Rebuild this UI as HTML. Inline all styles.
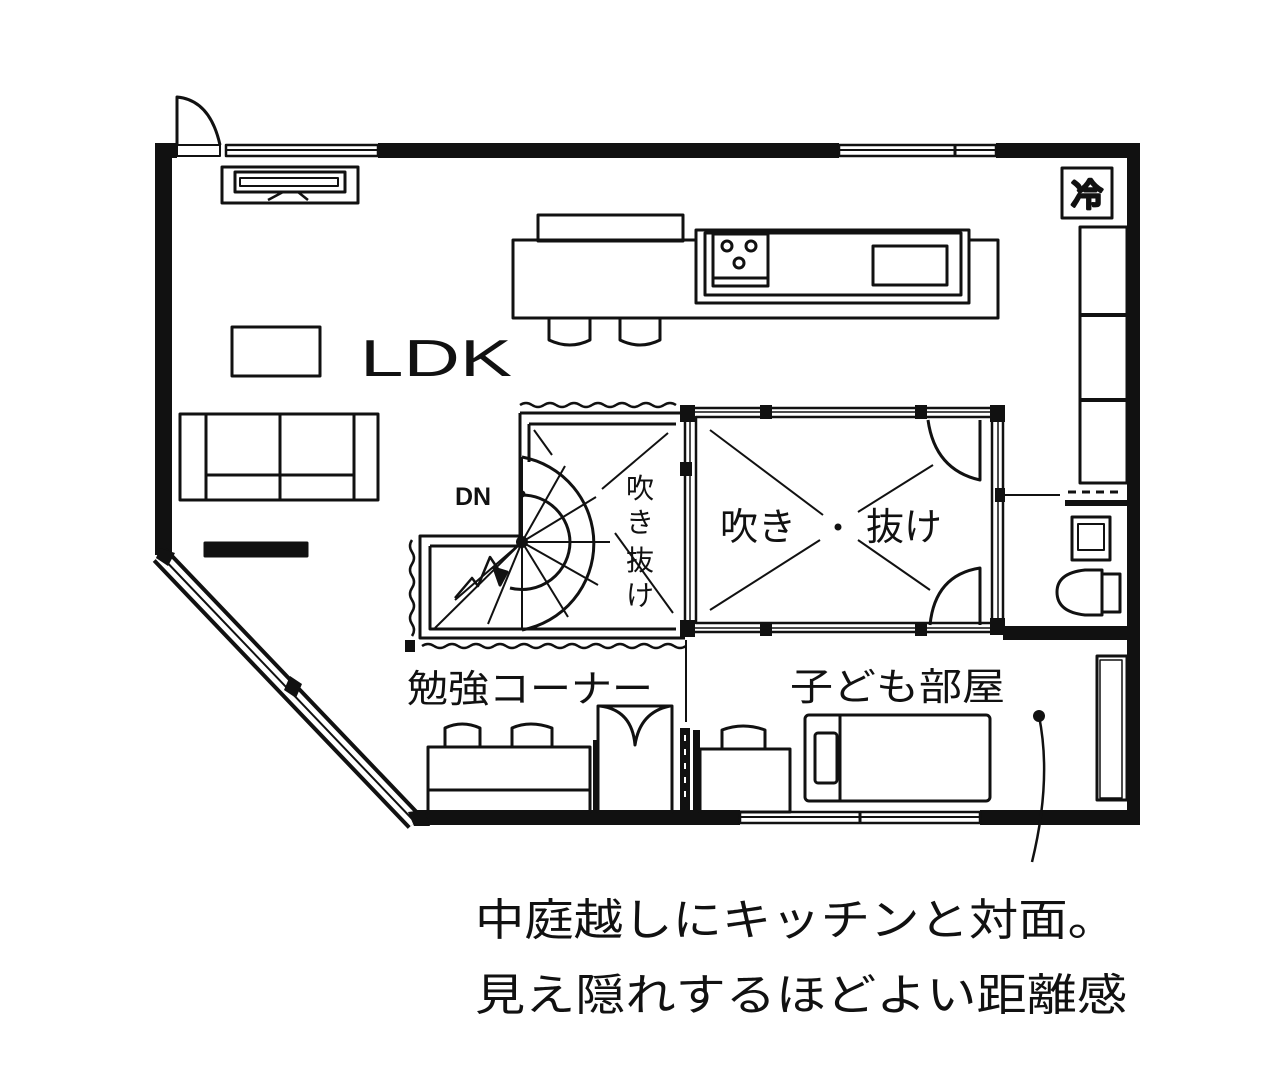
<!DOCTYPE html>
<html><head><meta charset="utf-8"><style>
html,body{margin:0;padding:0;background:#fff;}
svg{display:block}
text{font-family:"Liberation Sans","Noto Sans CJK JP",sans-serif;fill:#111}
</style></head><body>
<svg width="1280" height="1066" viewBox="0 0 1280 1066" xmlns="http://www.w3.org/2000/svg">
<g stroke="#111" fill="none" stroke-width="3" stroke-linejoin="round">
<g fill="#111" stroke="none">
<rect x="155" y="143" width="22" height="15"/>
<rect x="378" y="143" width="461" height="15"/>
<rect x="996" y="143" width="144" height="15"/>
<rect x="155" y="143" width="17" height="412"/>
<rect x="1127" y="143" width="13" height="682"/>
<rect x="415" y="810" width="325" height="15"/>
<rect x="980" y="810" width="160" height="15"/>
</g>
<rect x="177" y="145" width="43" height="11" stroke-width="2"/>
<path d="M177 145 L177 97 Q210 100 220 145"/>
<rect x="226" y="145" width="152" height="11" stroke-width="2.5"/>
<line x1="226" y1="150" x2="378" y2="150" stroke-width="2"/>
<rect x="839" y="145" width="157" height="11" stroke-width="2.5"/>
<line x1="839" y1="150" x2="996" y2="150" stroke-width="2"/>
<line x1="955" y1="145" x2="955" y2="156"/>
<rect x="740" y="812" width="240" height="11" stroke-width="2.5"/>
<line x1="740" y1="817" x2="980" y2="817" stroke-width="2"/>
<line x1="860" y1="812" x2="860" y2="823"/>
<line x1="160" y1="555" x2="415" y2="822" stroke-width="20"/>
<line x1="160" y1="555" x2="415" y2="822" stroke="#fff" stroke-width="12"/>
<line x1="160" y1="555" x2="415" y2="822" stroke-width="2"/>
<polygon points="160,548 175,553 168,566 156,558" fill="#111" stroke="none"/>
<polygon points="290,676 302,684 296,698 284,690" fill="#111" stroke="none"/>
<polygon points="408,812 424,810 430,826 414,826" fill="#111" stroke="none"/>
<rect x="222" y="167" width="136" height="36"/>
<rect x="235" y="172" width="110" height="20"/>
<rect x="240" y="178" width="98" height="8" stroke-width="2"/>
<path d="M268 200 L283 192 L298 192 L308 200" stroke-width="2.5"/>
<rect x="1062" y="168" width="50" height="50"/>
<text x="1087" y="206" font-size="32" text-anchor="middle">冷</text>
<rect x="538" y="215" width="145" height="26"/>
<rect x="513" y="240" width="485" height="78"/>
<rect x="696" y="230" width="273" height="73" fill="#fff"/>
<rect x="705" y="233" width="256" height="62"/>
<rect x="713" y="234" width="55" height="52"/>
<circle cx="727" cy="246" r="5"/><circle cx="751" cy="246" r="5"/><circle cx="739" cy="263" r="5"/>
<line x1="713" y1="278" x2="768" y2="278"/>
<rect x="873" y="246" width="74" height="39"/>
<path d="M549 318 L549 340 Q570 350 590 340 L590 318"/>
<path d="M620 318 L620 340 Q640 350 660 340 L660 318"/>
<rect x="1080" y="227" width="47" height="256"/>
<line x1="1080" y1="315" x2="1127" y2="315" stroke-width="4"/>
<line x1="1080" y1="400" x2="1127" y2="400" stroke-width="4"/>
<rect x="232" y="327" width="88" height="49"/>
<rect x="180" y="414" width="198" height="86"/>
<line x1="206" y1="414" x2="206" y2="500"/>
<line x1="280" y1="414" x2="280" y2="500"/>
<line x1="354" y1="414" x2="354" y2="500"/>
<line x1="206" y1="475" x2="354" y2="475"/>
<rect x="205" y="543" width="102" height="13" fill="#111"/>
<path d="M520 405 q6 -4 12 0 t12 0 t12 0 t12 0 t12 0 t12 0 t12 0 t12 0 t12 0 t12 0 t12 0 t12 0 t12 0" stroke-width="2.5"/>
<path d="M520 413 L520 536 L420 536 L420 638 L685 638"/>
<line x1="520" y1="413" x2="685" y2="413"/>
<path d="M529 424 L676 424 M529 424 L529 462 M430 546 L520 546 M430 546 L430 629 L676 629"/>
<path d="M412 540 q-4 6 0 12 t0 12 t0 12 t0 12 t0 12 t0 12 t0 12 t0 12" stroke-width="2.5"/>
<path d="M422 646 q6 -4 12 0 t12 0 t12 0 t12 0 t12 0 t12 0 t12 0 t12 0 t12 0 t12 0 t12 0 t12 0 t12 0 t12 0 t12 0 t12 0 t12 0 t12 0 t12 0 t12 0 t12 0 t12 0" stroke-width="2.5"/>
<rect x="405" y="640" width="10" height="12" fill="#111" stroke="none"/>
<path d="M522 457 A88 88 0 0 1 522 630" />
<path d="M522 495 A48 48 0 0 1 570 542 A48 48 0 0 1 510 588"/>
<g stroke-width="2">
<line x1="522" y1="542" x2="522" y2="457"/>
<line x1="522" y1="542" x2="565" y2="466"/>
<line x1="522" y1="542" x2="596" y2="497"/>
<line x1="522" y1="542" x2="610" y2="542"/>
<line x1="522" y1="542" x2="598" y2="585"/>
<line x1="522" y1="542" x2="568" y2="617"/>
<line x1="522" y1="542" x2="522" y2="630"/>
<line x1="522" y1="542" x2="488" y2="624"/>
<line x1="522" y1="542" x2="455" y2="600"/>
<line x1="522" y1="542" x2="435" y2="628"/>
<line x1="534" y1="430" x2="552" y2="455"/>
<line x1="602" y1="489" x2="668" y2="433"/>
<line x1="615" y1="533" x2="673" y2="613"/>
</g>
<path d="M455 598 L472 578 L478 586 L490 557 L500 572" stroke-width="2.5"/>
<polygon points="494,568 507,572 500,585" fill="#111"/>
<circle cx="522" cy="542" r="6" fill="#111" stroke="none"/>
<circle cx="522" cy="494" r="3.5" fill="#111" stroke="none"/>
<rect x="685" y="408" width="318" height="224" stroke-width="2.5"/>
<rect x="696" y="417" width="296" height="206" stroke-width="2.5"/>
<line x1="690" y1="412" x2="998" y2="412" stroke-width="1.5"/>
<line x1="690" y1="628" x2="998" y2="628" stroke-width="1.5"/>
<line x1="690" y1="412" x2="690" y2="628" stroke-width="1.5"/>
<line x1="998" y1="412" x2="998" y2="628" stroke-width="1.5"/>
<g fill="#111" stroke="none">
<rect x="680" y="405" width="15" height="17"/><rect x="760" y="405" width="12" height="14"/><rect x="915" y="405" width="12" height="14"/><rect x="990" y="405" width="15" height="17"/>
<rect x="680" y="462" width="12" height="14"/><rect x="995" y="488" width="10" height="14"/>
<rect x="680" y="620" width="15" height="17"/><rect x="760" y="622" width="12" height="14"/><rect x="915" y="622" width="12" height="14"/><rect x="990" y="618" width="15" height="17"/>
</g>
<g stroke-width="2">
<line x1="710" y1="430" x2="823" y2="515"/>
<line x1="710" y1="610" x2="820" y2="540"/>
<line x1="858" y1="512" x2="933" y2="465"/>
<line x1="858" y1="540" x2="930" y2="590"/>
</g>
<path d="M928 420 Q935 470 980 480 L980 420"/>
<path d="M930 625 Q935 575 980 568 L980 625"/>
<circle cx="838" cy="527" r="3.5" fill="#111" stroke="none"/>
<line x1="1005" y1="495" x2="1060" y2="495" stroke-width="2"/>
<path d="M1068 492 h8 m6 0 h8 m6 0 h8 m6 0 h8" stroke-width="3"/>
<rect x="1065" y="500" width="62" height="6" fill="#111" stroke="none"/>
<rect x="1072" y="517" width="38" height="43"/>
<rect x="1078" y="524" width="26" height="26" stroke-width="2"/>
<path d="M1102 570 L1085 570 Q1057 573 1057 592 Q1057 612 1085 615 L1102 615 Z"/>
<rect x="1102" y="574" width="18" height="38"/>
<rect x="1003" y="626" width="124" height="14" fill="#111" stroke="none"/>
<line x1="686" y1="640" x2="686" y2="722" stroke-width="2"/>
<rect x="680" y="728" width="10" height="82" fill="#111" stroke="none"/>
<line x1="685" y1="735" x2="685" y2="805" stroke="#fff" stroke-width="2" stroke-dasharray="6 8"/>
<rect x="428" y="747" width="162" height="65"/>
<line x1="428" y1="790" x2="590" y2="790"/>
<path d="M445 748 L445 728 Q462 720 480 728 L480 748"/>
<path d="M512 748 L512 728 Q530 720 552 728 L552 748"/>
<rect x="598" y="706" width="74" height="106"/>
<path d="M600 706 Q632 710 635 745 Q640 712 670 706"/>
<rect x="593" y="740" width="5" height="70" fill="#111" stroke="none"/>
<rect x="693" y="730" width="7" height="80" fill="#111" stroke="none"/>
<rect x="700" y="749" width="90" height="63"/>
<path d="M722 749 L722 730 Q743 722 765 730 L765 749"/>
<rect x="805" y="715" width="185" height="86" rx="4"/>
<line x1="840" y1="716" x2="840" y2="800"/>
<rect x="815" y="733" width="22" height="50" rx="3"/>
<rect x="1097" y="656" width="30" height="144"/>
<rect x="1100" y="660" width="22" height="138" stroke-width="1.5"/>
<circle cx="1039" cy="716" r="6" fill="#111" stroke="none"/>
<path d="M1039 716 Q1052 780 1032 862" stroke-width="2.5"/>
</g>
<text x="360" y="376" font-size="52" textLength="152" lengthAdjust="spacingAndGlyphs">LDK</text>
<text x="455" y="505" font-size="25" font-weight="bold">DN</text>
<text x="720" y="540" font-size="38">吹き</text>
<text x="866" y="540" font-size="38">抜け</text>
<text x="640" y="498" font-size="28" text-anchor="middle">吹</text>
<text x="640" y="532" font-size="28" text-anchor="middle">き</text>
<text x="640" y="570" font-size="28" text-anchor="middle">抜</text>
<text x="640" y="605" font-size="28" text-anchor="middle">け</text>
<text x="407" y="702" font-size="38" textLength="246" lengthAdjust="spacingAndGlyphs">勉強コーナー</text>
<text x="790" y="700" font-size="38" textLength="215" lengthAdjust="spacingAndGlyphs">子ども部屋</text>
<text x="475" y="935" font-size="44" textLength="642" lengthAdjust="spacingAndGlyphs">中庭越しにキッチンと対面。</text>
<text x="475" y="1010" font-size="44" textLength="652" lengthAdjust="spacingAndGlyphs">見え隠れするほどよい距離感</text>
</svg>
</body></html>
